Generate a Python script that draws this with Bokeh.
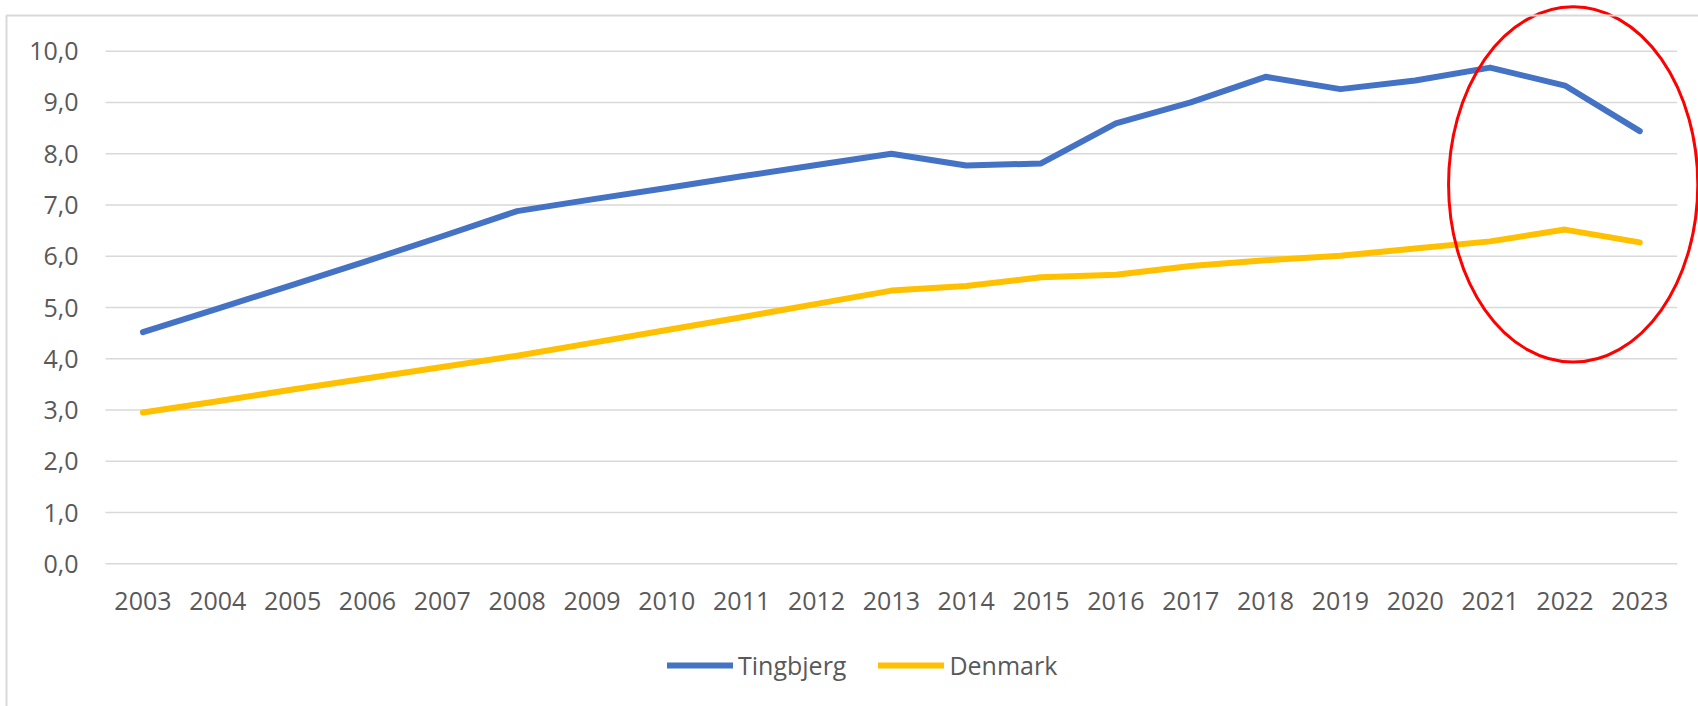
import numpy as np
from bokeh.plotting import figure
from bokeh.models import Range1d, Legend, LegendItem, BoxAnnotation
from bokeh.core.properties import value
from bokeh.embed import file_html
from bokeh.resources import INLINE

# ---- data ----
years = list(range(2003, 2024))
tingbjerg = [4.52, 4.98, 5.44, 5.91, 6.39, 6.88, 7.11, 7.33, 7.56, 7.78, 8.00,
             7.77, 7.81, 8.59, 9.00, 9.50, 9.26, 9.43, 9.68, 9.33, 8.44]
denmark = [2.95, 3.17, 3.40, 3.62, 3.84, 4.06, 4.31, 4.56, 4.81, 5.07, 5.33,
           5.42, 5.59, 5.64, 5.81, 5.92, 6.01, 6.15, 6.29, 6.52, 6.27]
y_ticks = [0, 1, 2, 3, 4, 5, 6, 7, 8, 9, 10]
y_tick_labels = ["0,0", "1,0", "2,0", "3,0", "4,0", "5,0", "6,0", "7,0", "8,0", "9,0", "10,0"]
x_tick_labels = [str(y) for y in years]
series_names = ["Tingbjerg", "Denmark"]

# highlight ellipse (data units): centre year, centre value, width (years), height (value)
ell_cx, ell_cy, ell_w, ell_h = 2022.11, 7.40, 3.33, 6.93

BLUE = "#4472C4"
YELLOW = "#FFC000"
TXT = "#595959"
GRID = "#D9D9D9"
FONT = "Open Sans"

# ---- layout (canvas pixels) ----
W, H = 1698, 706
plot_left, plot_right = 105.0, 1676.7     # pixel edges of the category bands
plot_top, plot_bottom = 50.7, 563.3       # pixel positions of 10 and 0
x0_band, x1_band = years[0] - 0.5, years[-1] + 0.5
y_lo, y_hi = y_ticks[0], y_ticks[-1]
ppx = (plot_right - plot_left) / (x1_band - x0_band)
ppy = (plot_bottom - plot_top) / (y_hi - y_lo)
x_range = Range1d(x0_band - plot_left / ppx, x1_band + (W - plot_right) / ppx)
y_range = Range1d(y_lo - (H - plot_bottom) / ppy, y_hi + plot_top / ppy)

p = figure(width=W, height=H, output_backend="svg", toolbar_location=None,
           x_range=x_range, y_range=y_range,
           min_border=0, min_border_left=0, min_border_right=0,
           min_border_top=0, min_border_bottom=0)
p.axis.visible = False
p.grid.visible = False
p.outline_line_color = None
p.background_fill_color = "white"
p.border_fill_color = "white"

# horizontal gridlines at the y ticks
p.segment(x0=[x0_band] * len(y_ticks), x1=[x1_band] * len(y_ticks), y0=y_ticks, y1=y_ticks,
          line_color=GRID, line_width=1.5)

# tick labels
p.text(x=[x0_band] * len(y_ticks), y=y_ticks, text=y_tick_labels, x_offset=-27,
       text_align="right", text_baseline="middle", text_font=value(FONT),
       text_font_size="25px", text_color=TXT)
p.text(x=years, y=[y_lo] * len(years), text=x_tick_labels, y_offset=37,
       text_align="center", text_baseline="middle", text_font=value(FONT),
       text_font_size="25px", text_color=TXT)

r1 = p.line(years, tingbjerg, line_color=BLUE, line_width=6, line_cap="round", line_join="round")
r2 = p.line(years, denmark, line_color=YELLOW, line_width=6, line_cap="round", line_join="round")

# red highlight ellipse
p.ellipse(x=[ell_cx], y=[ell_cy], width=[ell_w], height=[ell_h],
          fill_color=None, line_color="#FF0000", line_width=3)

# chart-area border
border = BoxAnnotation(left=6, right=1730, top=15, bottom=740,
                       left_units="canvas", right_units="canvas", top_units="canvas", bottom_units="canvas",
                       fill_alpha=0, line_color=GRID, line_alpha=1, line_width=2)
p.add_layout(border)

legend = Legend(items=[LegendItem(label=series_names[0], renderers=[r1]),
                       LegendItem(label=series_names[1], renderers=[r2])],
                orientation="horizontal", location=(667, 24))
legend.border_line_color = None
legend.background_fill_alpha = 0
legend.padding = 0
legend.margin = 0
legend.spacing = 32
legend.glyph_width = 66
legend.glyph_height = 34
legend.label_height = 34
legend.label_standoff = 5
legend.label_text_font = FONT
legend.label_text_font_size = "25px"
legend.label_text_color = TXT
p.add_layout(legend)

open("out.html", "w").write(file_html(p, INLINE))
